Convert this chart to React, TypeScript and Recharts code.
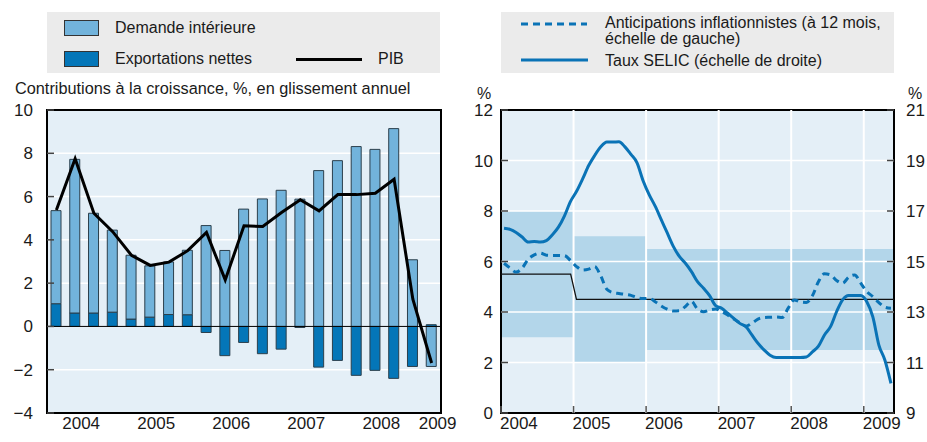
import { ComposedChart, Bar, Line, XAxis, YAxis, CartesianGrid, ReferenceLine, ReferenceArea } from 'recharts';

// Panneau gauche : contributions à la croissance (trimestriel, 2004T1 - 2009T1)
const quarters = [
  '2004T1', '2004T2', '2004T3', '2004T4',
  '2005T1', '2005T2', '2005T3', '2005T4',
  '2006T1', '2006T2', '2006T3', '2006T4',
  '2007T1', '2007T2', '2007T3', '2007T4',
  '2008T1', '2008T2', '2008T3', '2008T4',
  '2009T1',
];
const demandeInterieure = [4.3, 7.1, 4.61, 3.79, 2.95, 2.37, 2.43, 2.98, 4.66, 3.51, 5.42, 5.89, 6.29, 5.88, 7.2, 7.66, 8.31, 8.18, 9.14, 3.08, -1.85];
const exportationsNettes = [1.05, 0.62, 0.62, 0.66, 0.34, 0.43, 0.55, 0.54, -0.28, -1.35, -0.74, -1.26, -1.05, -0.05, -1.88, -1.57, -2.26, -2.03, -2.4, -1.85, 0.08];
const pib = [5.38, 7.75, 5.23, 4.38, 3.29, 2.82, 2.97, 3.5, 4.34, 2.15, 4.65, 4.62, 5.26, 5.85, 5.34, 6.09, 6.09, 6.15, 6.8, 1.26, -1.69];
const leftTicks = [-4, -2, 0, 2, 4, 6, 8, 10];
const leftYearLabels: Record<string, string> = {
  '2004T2': '2004', '2005T2': '2005', '2006T2': '2006', '2007T2': '2007', '2008T2': '2008', '2009T1': '2009',
};

// Panneau droit : mensuel, janvier 2004 - mai 2009
const startYear = 2004;
const anticipations = [
  5.93, 5.74, 5.58, 5.74, 6.09, 6.26, 6.33, 6.25, 6.24, 6.24, 6.23, 6.04,
  5.8, 5.66, 5.7, 5.8, 5.43, 4.9, 4.77, 4.73, 4.7, 4.66, 4.57, 4.53,
  4.54, 4.41, 4.24, 4.11, 4.04, 4.05, 4.22, 4.42, 4.12, 4.01, 4.08, 4.12,
  4.01, 3.88, 3.72, 3.58, 3.44, 3.55, 3.72, 3.78, 3.79, 3.8, 3.78, 4.15,
  4.48, 4.4, 4.38, 4.64, 5.2, 5.51, 5.47, 5.25, 5.14, 5.38, 5.47, 5.14,
  4.81, 4.61, 4.37, 4.19, 4.15,
];
const selic = [
  16.32, 16.27, 16.15, 15.97, 15.77, 15.79, 15.77, 15.83, 16.06, 16.36, 16.81, 17.38,
  17.78, 18.27, 18.8, 19.2, 19.54, 19.73, 19.73, 19.74, 19.54, 19.24, 18.91, 18.2,
  17.65, 17.19, 16.66, 16.13, 15.6, 15.2, 14.93, 14.6, 14.2, 13.94, 13.65, 13.25,
  13.15, 12.95, 12.75, 12.55, 12.42, 12.09, 11.76, 11.5, 11.29, 11.2, 11.2, 11.2,
  11.2, 11.2, 11.22, 11.42, 11.65, 12.09, 12.42, 13.01, 13.48, 13.65, 13.65, 13.65,
  13.41, 12.81, 11.69, 11.09, 10.17,
];
const cibleDebut = [2004, 2005, 2006];
const cibleFin = [2005, 2006, 2009.4167];
const cibleCentre = [5.5, 4.5, 4.5];
const cibleBas = [3, 2, 2.5];
const cibleHaut = [8, 7, 6.5];
const rightYears = [2004, 2005, 2006, 2007, 2008, 2009];
const rightLeftTicks = [0, 2, 4, 6, 8, 10, 12];
const rightRightTicks = [9, 11, 13, 15, 17, 19, 21];

const FONT = "'Liberation Sans', Arial, sans-serif";
const LIGHT = '#72b3db';
const DARK = '#0476b8';
const BLUE = '#0a73b6';
const PLOT_BG = '#e4eff7';
const BAND = '#b3d6ea';
const TEXT = '#1a1a1a';

const leftData = quarters.map((q, i) => ({
  q,
  di: demandeInterieure[i],
  nx: exportationsNettes[i],
  pib: pib[i],
}));

const rightData = anticipations.map((a, i) => ({
  t: startYear + (i + 0.5) / 12,
  anticipations: a,
  selic: selic[i],
}));

const cibleLigne = cibleDebut.flatMap((d, i) => [
  { t: i === 0 ? d : d + 0.04, v: cibleCentre[i] },
  { t: i === cibleDebut.length - 1 ? cibleFin[i] : cibleFin[i] - 0.04, v: cibleCentre[i] },
]);

const fmt = (v: number) => (v < 0 ? '\u2212' + Math.abs(v) : String(v));

function LeftYearTick(props: any) {
  const { x, y, payload } = props;
  const label = leftYearLabels[payload.value];
  if (!label) return <g />;
  return (
    <text x={x + 6} y={y + 16} textAnchor="middle" fontFamily={FONT} fontSize={17} fill={TEXT}>
      {label}
    </text>
  );
}

function RightYearTick(props: any) {
  const { x, y, payload } = props;
  return (
    <g>
      <line x1={x} x2={x} y1={y - 7} y2={y} stroke="#555" strokeWidth={1.5} />
      <text x={x - 1} y={y + 16} textAnchor="start" fontFamily={FONT} fontSize={17} fill={TEXT}>
        {payload.value}
      </text>
    </g>
  );
}

// tick à gauche : texte aligné à droite, petit trait vers l'intérieur du graphique
function makeYTick(margin: number, side: 'left' | 'right', format?: (v: number) => string) {
  return function YTick(props: any) {
    const { x, y, payload } = props;
    const label = format ? format(payload.value) : String(payload.value);
    const edge = side === 'left' ? x + margin : x - margin;
    const inner = side === 'left' ? edge + 7 : edge - 7;
    return (
      <g>
        <line x1={edge} x2={inner} y1={y} y2={y} stroke="#444" strokeWidth={1.5} />
        <text
          x={x}
          y={y}
          dy={6}
          textAnchor={side === 'left' ? 'end' : 'start'}
          fontFamily={FONT}
          fontSize={17}
          fill={TEXT}
        >
          {label}
        </text>
      </g>
    );
  };
}

const LeftPanelYTick = makeYTick(14, 'left', fmt);
const RightPanelLeftTick = makeYTick(8, 'left');
const RightPanelRightTick = makeYTick(12, 'right');

const legendBox: React.CSSProperties = {
  position: 'absolute',
  top: 12,
  height: 61,
  background: '#ebebeb',
};

const txt: React.CSSProperties = {
  position: 'absolute',
  fontFamily: FONT,
  fontSize: 16,
  color: TEXT,
  whiteSpace: 'nowrap',
  lineHeight: '17px',
};

export default function App() {
  return (
    <div style={{ position: 'absolute', left: 0, top: 0, width: 927, height: 442, background: '#fff', overflow: 'hidden' }}>
      {/* Légende gauche */}
      <div style={{ ...legendBox, left: 47, width: 393 }} />
      <div style={{ position: 'absolute', left: 64, top: 20, width: 33, height: 14, background: LIGHT, border: '1px solid #333' }} />
      <div style={{ ...txt, left: 115, top: 19 }}>Demande intérieure</div>
      <div style={{ position: 'absolute', left: 64, top: 51, width: 33, height: 14, background: DARK, border: '1px solid #333' }} />
      <div style={{ ...txt, left: 115, top: 50 }}>Exportations nettes</div>
      <div style={{ position: 'absolute', left: 296, top: 58, width: 66, height: 3, background: '#000' }} />
      <div style={{ ...txt, left: 378, top: 50 }}>PIB</div>
      <div style={{ ...txt, left: 15, top: 80, fontSize: 16.3 }}>Contributions à la croissance, %, en glissement annuel</div>

      {/* Légende droite */}
      <div style={{ ...legendBox, left: 501, width: 393 }} />
      <svg style={{ position: 'absolute', left: 521, top: 18 }} width={70} height={50}>
        <line x1={0} x2={66} y1={6} y2={6} stroke={BLUE} strokeWidth={3} strokeDasharray="7 5" />
        <line x1={0} x2={67} y1={42} y2={42} stroke={BLUE} strokeWidth={3} />
      </svg>
      <div style={{ ...txt, left: 605, top: 15, lineHeight: '16px' }}>
        Anticipations inflationnistes (à 12 mois,
        <br />
        échelle de gauche)
      </div>
      <div style={{ ...txt, left: 605, top: 52 }}>Taux SELIC (échelle de droite)</div>
      <div style={{ ...txt, left: 477, top: 85 }}>%</div>
      <div style={{ ...txt, left: 908, top: 85 }}>%</div>

      {/* Panneau gauche */}
      <div style={{ position: 'absolute', left: 0, top: 0 }}>
        <ComposedChart
          width={460}
          height={442}
          data={leftData}
          stackOffset="sign"
          barSize={10}
          margin={{ top: 110, right: 19, left: 0, bottom: 0 }}
        >
          <CartesianGrid vertical={false} fill={PLOT_BG} stroke="#fff" strokeWidth={1.5} horizontalValues={[-2, 2, 4, 6, 8]} />
          <XAxis
            dataKey="q"
            interval={0}
            tick={<LeftYearTick />}
            tickLine={false}
            axisLine={false}
            tickSize={0}
            tickMargin={0}
            height={29}
          />
          <YAxis
            domain={[-4, 10]}
            ticks={leftTicks}
            width={47}
            tickLine={false}
            axisLine={false}
            tickSize={0}
            tickMargin={14}
            tick={<LeftPanelYTick />}
          />
          <Bar dataKey="nx" stackId="a" fill={DARK} stroke="#2b3f4c" strokeWidth={1} isAnimationActive={false} />
          <Bar dataKey="di" stackId="a" fill={LIGHT} stroke="#2b3f4c" strokeWidth={1} isAnimationActive={false} />
          <ReferenceLine y={0} stroke="#000" strokeWidth={1} />
          <Line type="linear" dataKey="pib" stroke="#000" strokeWidth={3} dot={false} isAnimationActive={false} />
          <ReferenceArea x1="2004T1" x2="2009T1" y1={-4} y2={10} fill="none" stroke="#000" strokeWidth={2} ifOverflow="visible" />
        </ComposedChart>
      </div>

      {/* Panneau droit */}
      <div style={{ position: 'absolute', left: 460, top: 0 }}>
        <ComposedChart
          width={467}
          height={442}
          data={rightData}
          margin={{ top: 110, right: 0, left: 0, bottom: 0 }}
        >
          <CartesianGrid horizontal={false} vertical={false} fill={PLOT_BG} />
          <XAxis
            type="number"
            dataKey="t"
            domain={[2004, 2009.4167]}
            allowDataOverflow
            ticks={rightYears}
            tick={<RightYearTick />}
            tickLine={false}
            axisLine={false}
            tickSize={0}
            tickMargin={0}
            height={29}
          />
          <YAxis
            yAxisId="l"
            domain={[0, 12]}
            ticks={rightLeftTicks}
            width={41}
            tickLine={false}
            axisLine={false}
            tickSize={0}
            tickMargin={8}
            tick={<RightPanelLeftTick />}
          />
          <YAxis
            yAxisId="r"
            orientation="right"
            domain={[9, 21]}
            ticks={rightRightTicks}
            width={33}
            tickLine={false}
            axisLine={false}
            tickSize={0}
            tickMargin={12}
            tick={<RightPanelRightTick />}
          />
          {cibleDebut.map((d, i) => (
            <ReferenceArea key={d} yAxisId="l" x1={d} x2={cibleFin[i]} y1={cibleBas[i]} y2={cibleHaut[i]} fill={BAND} fillOpacity={1} stroke="none" />
          ))}
          {[2, 4, 6, 8, 10].map((v) => (
            <ReferenceLine key={'h' + v} yAxisId="l" y={v} stroke="#fff" strokeWidth={1.5} />
          ))}
          {[2005, 2006, 2007, 2008, 2009].map((v) => (
            <ReferenceLine key={'v' + v} yAxisId="l" x={v} stroke="#fff" strokeWidth={2} />
          ))}
          <Line data={cibleLigne} yAxisId="l" dataKey="v" type="linear" stroke="#111" strokeWidth={1.3} dot={false} isAnimationActive={false} />
          <Line yAxisId="l" dataKey="anticipations" type="monotone" stroke={BLUE} strokeWidth={3} strokeDasharray="7 5" dot={false} isAnimationActive={false} />
          <Line yAxisId="r" dataKey="selic" type="monotone" stroke={BLUE} strokeWidth={3} dot={false} isAnimationActive={false} />
          <ReferenceArea yAxisId="l" x1={2004} x2={2009.4167} y1={0} y2={12} fill="none" stroke="#000" strokeWidth={2} ifOverflow="visible" />
        </ComposedChart>
      </div>
    </div>
  );
}
